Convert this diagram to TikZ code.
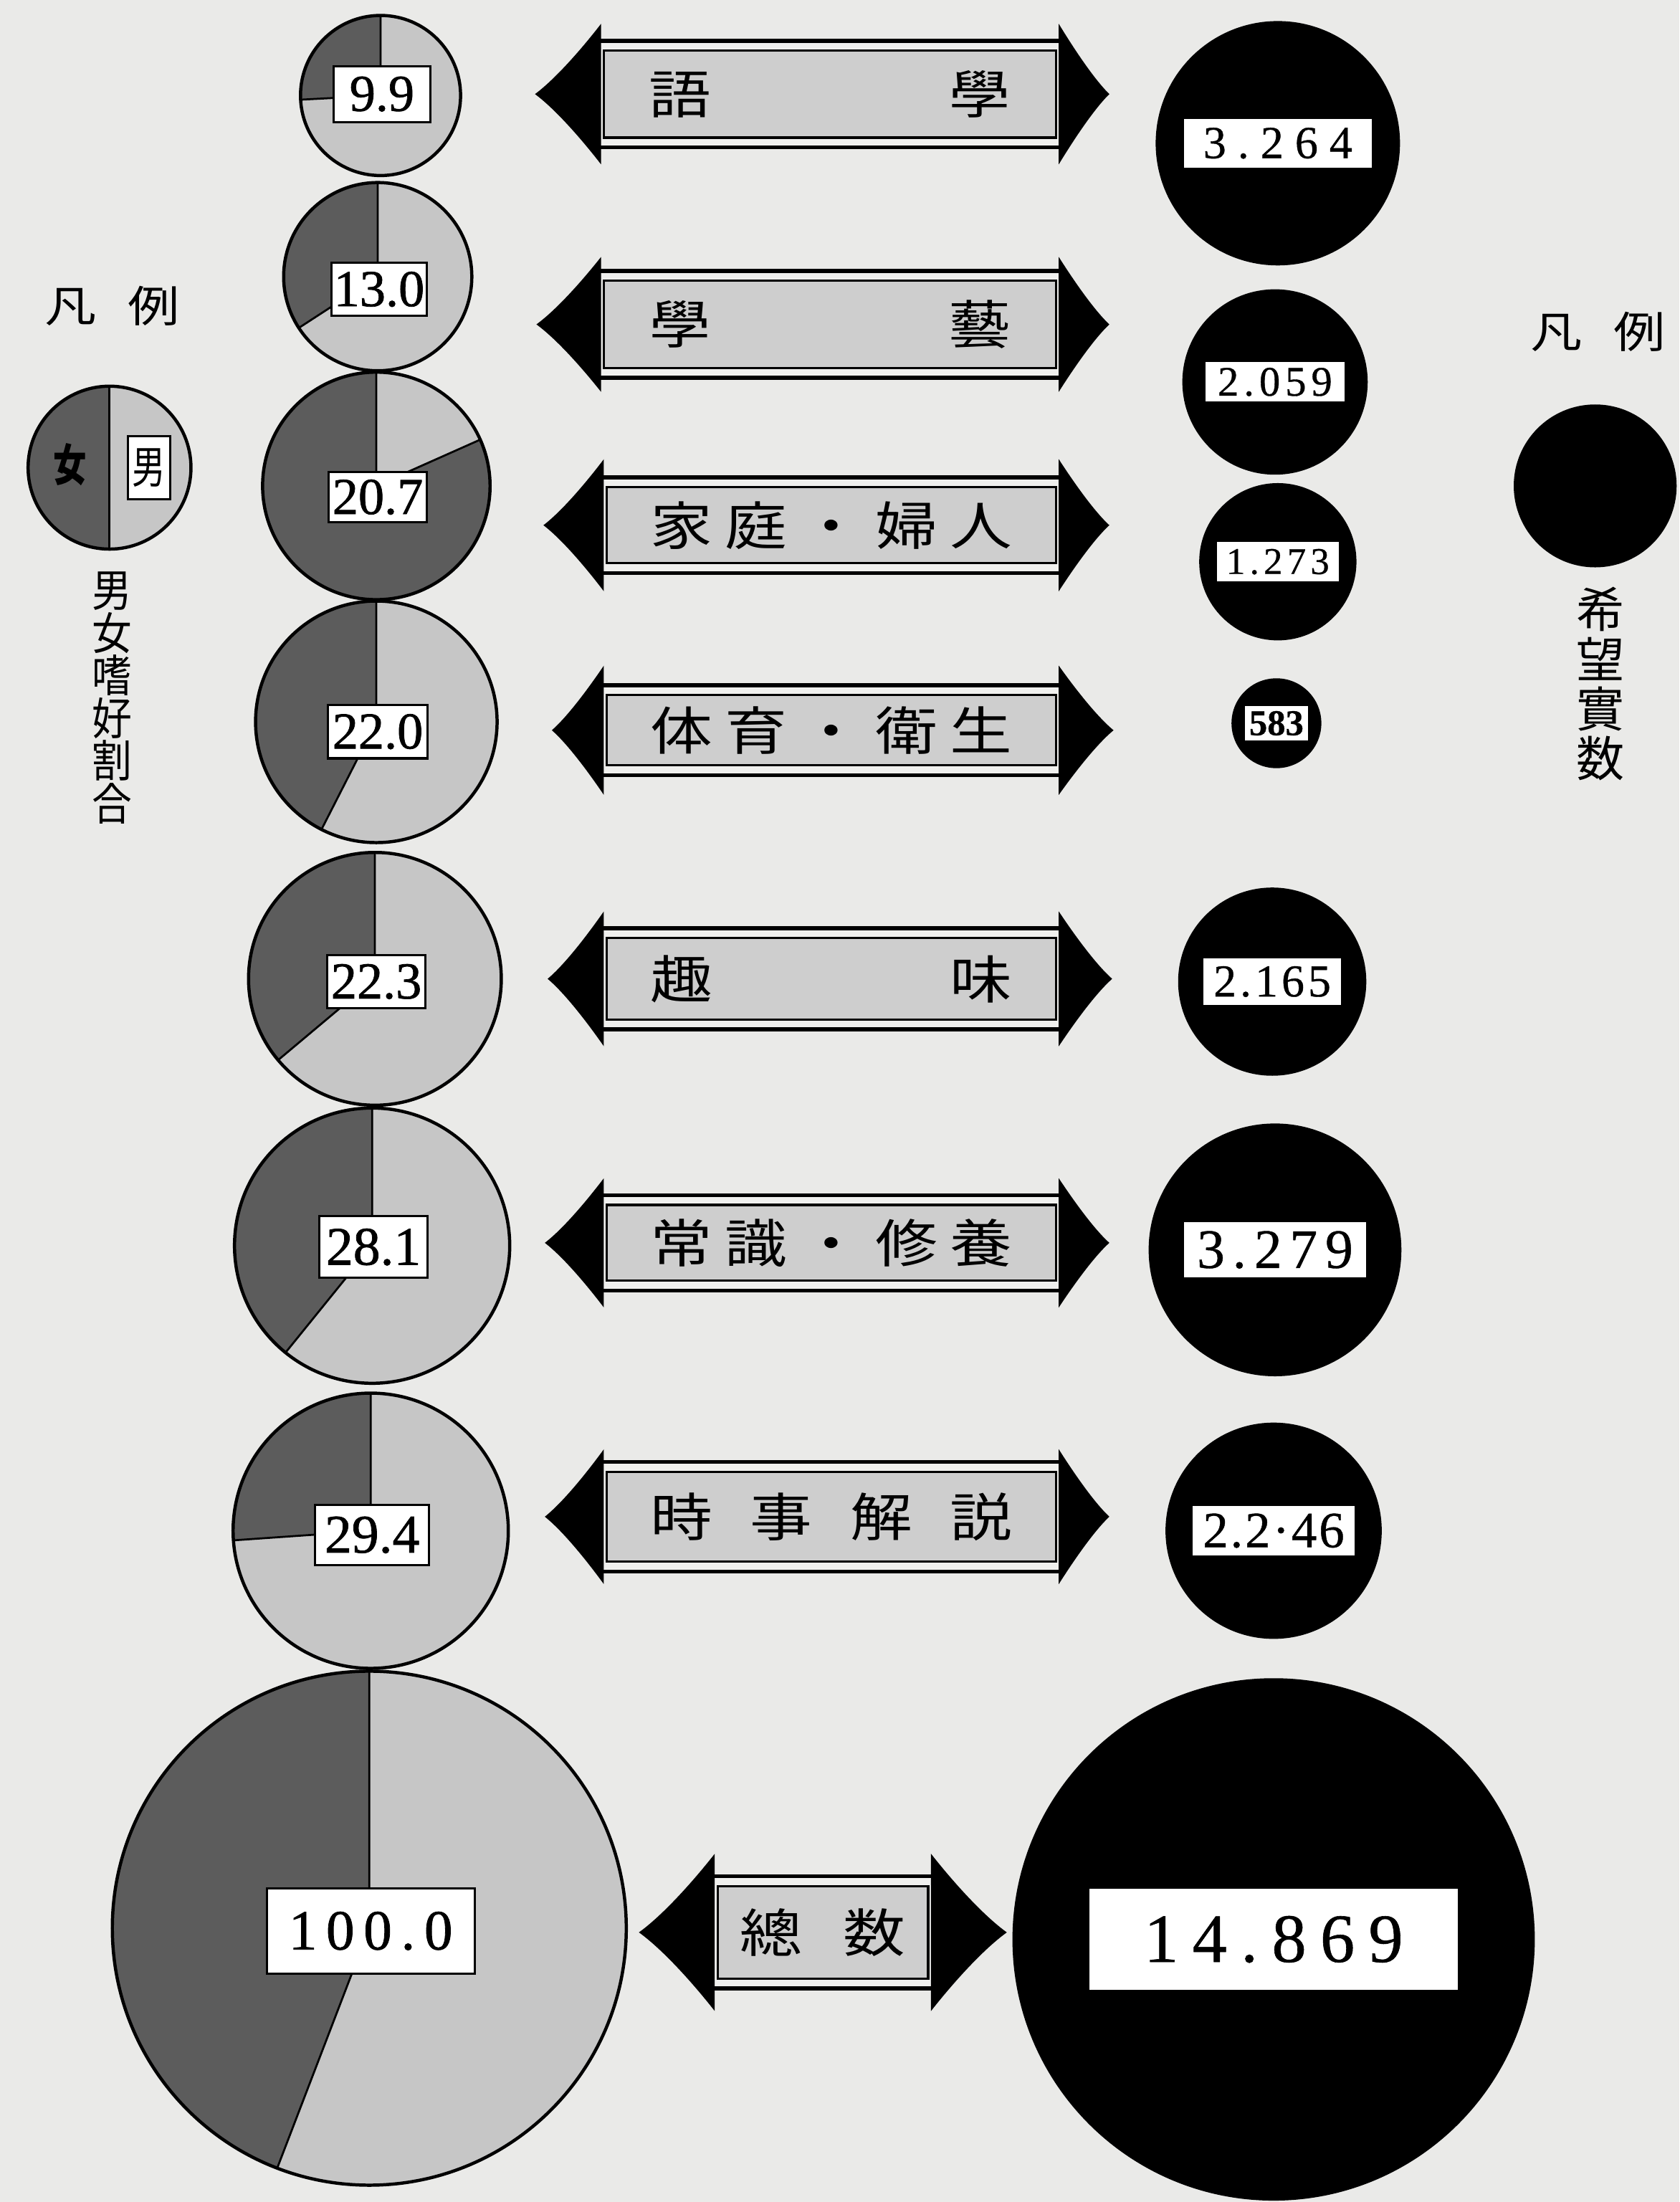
\documentclass[tikz,border=0pt]{standalone}
\usepackage{fontspec}
\usepackage{tikz}
\newfontfamily\cjk{Noto Sans CJK JP}
\newfontfamily\cjkwide[FakeStretch=1.2]{Noto Sans CJK JP}
\newfontfamily\cjktall[FakeStretch=0.9]{Noto Sans CJK JP}
\newfontfamily\cjknarrow[FakeStretch=0.75]{Noto Sans CJK JP}
\newfontfamily\pienum[FakeBold=1]{Liberation Serif}
\newfontfamily\countnum[FakeBold=0.6]{Liberation Serif}
\definecolor{paper}{RGB}{234,234,232}
\definecolor{malegray}{RGB}{198,198,198}
\definecolor{femalegray}{RGB}{92,92,92}
\definecolor{panelgray}{RGB}{206,206,206}
\definecolor{gapwhite}{RGB}{240,240,238}
\tikzstyle{male}=[
        fill=malegray
]
\tikzstyle{female}=[
        fill=femalegray
]
\tikzstyle{rim}=[
        draw=black,
        line width=1.3pt
]
\tikzstyle{sectorline}=[
        draw=black,
        line width=0.8pt
]
\tikzstyle{ratiobox}=[
        draw=black,
        line width=0.9pt,
        fill=white,
        inner sep=0pt
]
\tikzstyle{countdisc}=[
        fill=black
]
\tikzstyle{countbox}=[
        fill=white,
        inner sep=0pt
]
\tikzstyle{bandframe}=[
        fill=gapwhite,
        draw=black,
        line width=1.6pt
]
\tikzstyle{bandpanel}=[
        fill=panelgray,
        draw=black,
        line width=0.9pt
]
\tikzstyle{tipshape}=[
        fill=black
]
\tikzstyle{bandtext}=[
        inner sep=0pt,
        font=\cjkwide\fontsize{21pt}{21pt}\selectfont
]
\tikzstyle{legendtitle}=[
        inner sep=0pt,
        font=\cjkwide\fontsize{17.5pt}{17.5pt}\selectfont
]
% name, y, left tip, left base, right base, right tip, band half height, head half height, text
\newcommand{\banner}[9]{%
        \filldraw[bandframe] (#4,{#2+#7}) rectangle (#5,{#2-#7});
        \filldraw[bandpanel] ({#4+4},{#2+#7-7}) rectangle ({#5-4},{#2-#7+7});
        \fill[tipshape] ({#4+2},{#2+#8}) .. controls ({#4-0.3*(#4-#3)},{#2+0.6*#8}) and ({#3+0.3*(#4-#3)},{#2+0.2*#8}) .. (#3,#2)
                .. controls ({#3+0.3*(#4-#3)},{#2-0.2*#8}) and ({#4-0.3*(#4-#3)},{#2-0.6*#8}) .. ({#4+2},{#2-#8}) -- cycle;
        \fill[tipshape] ({#5-2},{#2+#8}) .. controls ({#5+0.3*(#6-#5)},{#2+0.6*#8}) and ({#6-0.3*(#6-#5)},{#2+0.2*#8}) .. (#6,#2)
                .. controls ({#6-0.3*(#6-#5)},{#2-0.2*#8}) and ({#5+0.3*(#6-#5)},{#2-0.6*#8}) .. ({#5-2},{#2-#8}) -- cycle;
        \node[bandtext] (#1) at ({(#4+#5)/2},#2) {#9};
}

\begin{document}
\begin{tikzpicture}[x=0.02cm,y=0.02cm]
                        \useasboundingbox (0,0) rectangle (1196,-1568);
                        \fill[paper] (0,0) rectangle (1196,-1568);

                        % left legend
                        \node[legendtitle] (ltitle) at (80,-218) {凡\hspace{0.45cm}例};
                        \fill[male] (78,-333) circle[radius=58];
                        \fill[female] (78,-275) arc[start angle=90, end angle=270, radius=58] -- cycle;
                        \draw[sectorline] (78,-275) -- (78,-391);
                        \draw[rim] (78,-333) circle[radius=58];
                        \node[inner sep=0pt, font=\cjknarrow\bfseries\fontsize{18pt}{18pt}\selectfont] (fem) at (50,-331) {女};
                        \node[ratiobox, minimum width=0.6cm, minimum height=0.9cm, font=\cjknarrow\fontsize{18pt}{18pt}\selectfont] (mal) at (106,-333) {男};
                        \node[align=center, inner sep=0pt, font=\cjktall\fontsize{18pt}{17.3pt}\selectfont] (lcap) at (80,-497) {男\\女\\嗜\\好\\割\\合};

                        % right legend
                        \node[legendtitle] (rtitle) at (1138,-236) {凡\hspace{0.45cm}例};
                        \fill[countdisc] (1136,-346) circle[radius=58];
                        \node[align=center, inner sep=0pt, font=\cjk\fontsize{19.5pt}{20.1pt}\selectfont] (rcap) at (1140,-487) {希\\望\\實\\数};

                        % pies
                        \foreach \n/\cx/\cy/\r/\a/\v/\ly/\bw/\bh/\fs/\ls in {
                            1/271/-68/57/183/9.9/-67/69/40/21/0,
                            2/269/-197/67/213/13.0/-206/68/38/21/0,
                            3/268/-346/81/384/20.7/-354/70/36/21/0,
                            4/268/-514/86/243/22.0/-521/71/38/21/0,
                            5/267/-697/90/220/22.3/-699/70/38/21/0,
                            6/265/-887/98/231/28.1/-888/77/44/22/0,
                            7/264/-1090/98/184/29.4/-1093/81/43/22/0,
                            8/263/-1373/183/249/100.0/-1375/148/61/23/16} {
                            \fill[male] (\cx,\cy) circle[radius=\r];
                            \fill[female] (\cx,\cy) -- (\cx,\cy+\r) arc[start angle=90, end angle=\a, radius=\r] -- cycle;
                            \draw[sectorline] (\cx,\cy+\r) -- (\cx,\cy) -- ++(\a:\r);
                            \draw[rim] (\cx,\cy) circle[radius=\r];
                            \node[ratiobox, minimum width=\bw*0.02cm, minimum height=\bh*0.02cm,
                                font=\pienum\fontsize{\fs pt}{\fs pt}\selectfont\addfontfeature{LetterSpace=\ls}] (p\n) at (\cx+1,\ly) {\v};
                        }

                        % counts
                        \foreach \n/\cx/\cy/\r/\v/\bw/\bh/\fs/\ls in {
                            1/910/-102/87/3.264/134/35/18.6/25,
                            2/908/-272/66/2.059/99/28/17/12,
                            3/910/-400/56/1.273/87/28/15.3/12,
                            4/909/-515/32/\textbf{583}/45/25/14.7/0,
                            5/906/-699/67/2.165/98/33/18.5/8,
                            6/908/-890/90/3.279/130/39/22.5/14,
                            7/907/-1090/77/2.2·46/115/35/20.6/4,
                            8/907/-1381/186/14.869/262/72/28/20} {
                            \fill[countdisc] (\cx,\cy) circle[radius=\r];
                            \node[countbox, minimum width=\bw*0.02cm, minimum height=\bh*0.02cm,
                                font=\countnum\fontsize{\fs pt}{\fs pt}\selectfont\addfontfeature{LetterSpace=\ls}] (c\n) at (\cx,\cy) {\v};
                        }

                        % banners
                        \banner{b1}{-67}{381}{426}{756}{790}{38}{50}{\makebox[5.16cm][s]{語\hfill 學}}
                        \banner{b2}{-231}{382}{426}{756}{790}{38}{48}{\makebox[5.16cm][s]{學\hfill 藝}}
                        \banner{b3}{-374}{387}{428}{756}{790}{34}{47}{\makebox[5.16cm][s]{家\hfill 庭\hfill ・\hfill 婦\hfill 人}}
                        \banner{b4}{-520}{393}{428}{756}{793}{32}{46}{\makebox[5.16cm][s]{体\hfill 育\hfill ・\hfill 衛\hfill 生}}
                        \banner{b5}{-697}{390}{428}{756}{792}{36}{48}{\makebox[5.16cm][s]{趣\hfill 味}}
                        \banner{b6}{-885}{388}{428}{756}{790}{34}{46}{\makebox[5.16cm][s]{常\hfill 識\hfill ・\hfill 修\hfill 養}}
                        \banner{b7}{-1080}{388}{428}{756}{790}{39}{48}{\makebox[5.16cm][s]{時\hfill 事\hfill 解\hfill 説}}
                        \banner{b8}{-1376}{455}{507}{665}{717}{40}{56}{\makebox[2.36cm][s]{總\hfill 数}}

                    \end{tikzpicture}
\end{document}
